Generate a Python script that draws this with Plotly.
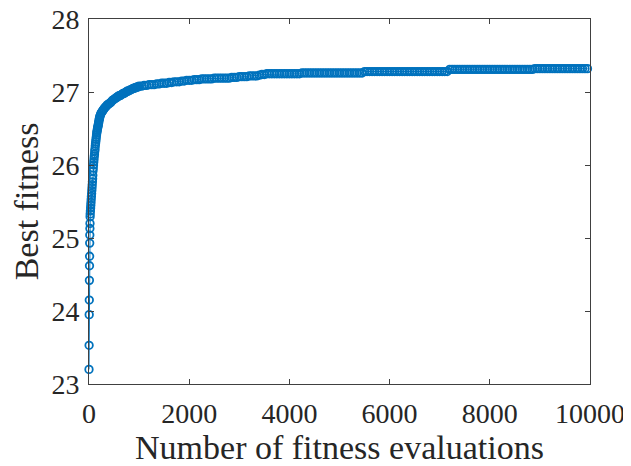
import plotly.graph_objects as go

# Evaluation counts (x) and best fitness (y)
evals_early = [0, 2, 4, 6, 8, 10, 12, 14, 16, 18, 20, 22,
               24, 28, 32, 36, 40, 44, 48, 52, 56, 60, 64, 68, 72, 76, 80]
fit_early = [23.2, 23.53, 23.95, 24.15, 24.42, 24.62, 24.75, 24.93, 25.04, 25.13, 25.2, 25.29,
             25.33, 25.37, 25.41, 25.45, 25.49, 25.53, 25.57, 25.61, 25.65, 25.69, 25.73, 25.77, 25.81, 25.86, 25.92]

evals_rise = [85, 90, 95, 100, 105, 110, 115, 120, 125, 130, 135, 140, 145, 150, 155, 160, 165, 170, 175, 180,
              185, 190, 195, 200, 205, 210, 215, 220, 230, 240, 250, 260, 270, 280, 290, 300,
              320, 340, 360, 380, 400, 420, 440, 460, 480, 500, 520, 540, 560, 580, 600, 620, 640, 660, 680, 700,
              720, 740, 760, 780, 800, 820, 840, 860, 880, 900, 920, 940, 960, 980, 1000]
fit_rise = [25.96, 26.0, 26.04, 26.08, 26.12, 26.15, 26.19, 26.22, 26.26, 26.29, 26.32, 26.35, 26.38, 26.41, 26.44, 26.46, 26.48, 26.5, 26.52, 26.53,
            26.55, 26.57, 26.59, 26.61, 26.63, 26.64, 26.66, 26.67, 26.69, 26.71, 26.72, 26.73, 26.74, 26.75, 26.76, 26.77,
            26.79, 26.8, 26.82, 26.83, 26.84, 26.85, 26.86, 26.88, 26.89, 26.9, 26.91, 26.92, 26.93, 26.94, 26.95, 26.95, 26.96, 26.97, 26.98, 26.98,
            26.99, 27.0, 27.01, 27.01, 27.02, 27.03, 27.03, 27.04, 27.05, 27.05, 27.06, 27.06, 27.07, 27.07, 27.08]

evals_late = [1050, 1100, 1150, 1200, 1250, 1300, 1350, 1400, 1450, 1500,
              1550, 1600, 1650, 1700, 1750, 1800, 1850, 1900, 1950, 2000, 2050, 2100, 2150,
              2200, 2250, 2300, 2350, 2400, 2450, 2500, 2550, 2600, 2650, 2700, 2750,
              2800, 2850, 2900, 2950, 3000, 3050, 3100, 3150, 3200, 3250, 3300, 3350,
              3400, 3450, 3500, 3550, 3600, 3650, 3700, 3750, 3800, 3850, 3900, 3950, 4000, 4050, 4100, 4150, 4200,
              4250, 4300, 4350, 4400, 4450, 4500, 4550, 4600, 4650, 4700, 4750, 4800, 4850, 4900, 4950, 5000,
              5050, 5100, 5150, 5200, 5250, 5300, 5350, 5400, 5450,
              5500, 5550, 5600, 5650, 5700, 5750, 5800, 5850, 5900, 5950, 6000, 6050, 6100, 6150, 6200, 6250, 6300,
              6350, 6400, 6450, 6500, 6550, 6600, 6650, 6700, 6750, 6800, 6850, 6900, 6950, 7000, 7050, 7100, 7150,
              7200, 7250, 7300, 7350, 7400, 7450, 7500, 7550, 7600, 7650, 7700, 7750, 7800, 7850, 7900, 7950, 8000,
              8050, 8100, 8150, 8200, 8250, 8300, 8350, 8400, 8450, 8500, 8550, 8600, 8650, 8700, 8750, 8800, 8850, 8900,
              8950, 9000, 9050, 9100, 9150, 9200, 9250, 9300, 9350, 9400, 9450, 9500, 9550, 9600, 9650, 9700, 9750,
              9800, 9850, 9900, 9950, 10000]
fit_late = [27.08, 27.09, 27.09, 27.1, 27.1, 27.1, 27.11, 27.11, 27.12, 27.12,
            27.12, 27.13, 27.13, 27.14, 27.14, 27.14, 27.15, 27.15, 27.16, 27.16, 27.16, 27.17, 27.17,
            27.17, 27.18, 27.18, 27.18, 27.18, 27.18, 27.19, 27.19, 27.19, 27.19, 27.19, 27.19,
            27.19, 27.2, 27.2, 27.2, 27.21, 27.21, 27.21, 27.21, 27.22, 27.22, 27.22, 27.22,
            27.23, 27.24, 27.24, 27.25, 27.25, 27.25, 27.25, 27.25, 27.25, 27.25, 27.25, 27.25, 27.25, 27.25, 27.25, 27.25, 27.25,
            27.26, 27.26, 27.26, 27.26, 27.26, 27.26, 27.26, 27.26, 27.26, 27.26, 27.26, 27.26, 27.26, 27.26, 27.26, 27.26,
            27.26, 27.26, 27.26, 27.26, 27.26, 27.26, 27.26, 27.26, 27.26,
            27.28, 27.28, 27.28, 27.28, 27.28, 27.28, 27.28, 27.28, 27.28, 27.28, 27.28, 27.28, 27.28, 27.28, 27.28, 27.28, 27.28,
            27.28, 27.28, 27.28, 27.28, 27.28, 27.28, 27.28, 27.28, 27.28, 27.28, 27.28, 27.28, 27.28, 27.28, 27.28, 27.28, 27.28,
            27.31, 27.31, 27.31, 27.31, 27.31, 27.31, 27.31, 27.31, 27.31, 27.31, 27.31, 27.31, 27.31, 27.31, 27.31, 27.31, 27.31,
            27.31, 27.31, 27.31, 27.31, 27.31, 27.31, 27.31, 27.31, 27.31, 27.31, 27.31, 27.31, 27.31, 27.31, 27.31, 27.31, 27.31,
            27.32, 27.32, 27.32, 27.32, 27.32, 27.32, 27.32, 27.32, 27.32, 27.32, 27.32, 27.32, 27.32, 27.32, 27.32, 27.32, 27.32,
            27.32, 27.32, 27.32, 27.32, 27.32]

x_ticks = [0, 2000, 4000, 6000, 8000, 10000]
y_ticks = [23, 24, 25, 26, 27, 28]
x_title = "Number of fitness evaluations"
y_title = "Best fitness"

evals = evals_early + evals_rise + evals_late
fitness = fit_early + fit_rise + fit_late

BLUE = "#0072BD"
AX = "#262626"
FONT = "Liberation Serif, Times New Roman, serif"

fig = go.Figure()
fig.add_trace(go.Scatter(
    x=evals, y=fitness, mode="lines+markers",
    line=dict(color=BLUE, width=1),
    marker=dict(symbol="circle-open", size=7.5, color=BLUE, line=dict(width=1.8, color=BLUE)),
    showlegend=False, hoverinfo="x+y", cliponaxis=False,
))

axis_common = dict(
    showline=True, linecolor="#404040", linewidth=1, mirror="ticks",
    ticks="inside", ticklen=5, tickwidth=1, tickcolor="#404040",
    showgrid=False, zeroline=False, automargin=False,
    ticklabeloverflow="allow",
    tickfont=dict(family=FONT, size=28, color=AX),
)

# page body has an 8px margin, so the figure is drawn 8px in from the top-left corner
fig.update_layout(
    width=623, height=458,
    margin=dict(l=81, r=41, t=11, b=82, autoexpand=False),
    paper_bgcolor="white", plot_bgcolor="white",
    font=dict(family=FONT, color=AX),
    xaxis=dict(range=[0, 10000], tickvals=x_ticks, ticktext=[str(v) for v in x_ticks],
               title=dict(text=x_title, font=dict(family=FONT, size=34, color=AX), standoff=5),
               ticklabelstandoff=4, **axis_common),
    yaxis=dict(range=[23, 28], tickvals=y_ticks, ticktext=[str(v) for v in y_ticks],
               title=dict(text=y_title, font=dict(family=FONT, size=34, color=AX), standoff=9),
               ticklabelstandoff=3, **axis_common),
)

fig.write_html("out.html")
